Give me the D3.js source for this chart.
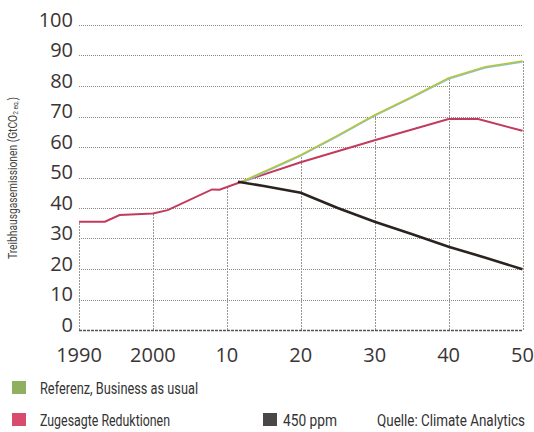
<!DOCTYPE html>
<html>
<head>
<meta charset="utf-8">
<script src="https://cdn.jsdelivr.net/npm/d3@7"></script>
<style>
  body { margin: 0; background: #fff; }
  svg { display: block; }
</style>
</head>
<body>
<svg width="534" height="432"></svg>
<script>
const svg = d3.select("svg");

const width = 534;
const height = 432;

const margin = { top: 25, right: 11, bottom: 102, left: 79 };

// Zugesagte Reduktionen (rot)
const redYears = [1990, 1993.5, 1995.5, 2000, 2002, 2008, 2009, 2012, 2020, 2030, 2040, 2044, 2050];
const redValues = [35.5, 35.5, 37.7, 38.2, 39.3, 46.1, 46, 48.6, 55, 62.2, 69.2, 69.2, 65.3];

// Referenz, Business as usual (grün)
const greenYears = [2012, 2020, 2025, 2030, 2035, 2040, 2045, 2050];
const greenValues = [48.6, 57.4, 63.8, 70.5, 76.4, 82.6, 86.3, 88.2];

// 450 ppm (schwarz)
const blackYears = [2011.5, 2015, 2020, 2025, 2030, 2035, 2040, 2045, 2050];
const blackValues = [48.6, 47.2, 45, 40, 35.5, 31.5, 27.3, 23.7, 19.9];

const yTicks = [0, 10, 20, 30, 40, 50, 60, 70, 80, 90, 100];
const xTicks = [1990, 2000, 2010, 2020, 2030, 2040, 2050];
const xTickLabels = ["1990", "2000", "10", "20", "30", "40", "50"];

const legendItems = ["Referenz, Business as usual", "Zugesagte Reduktionen", "450 ppm"];
const source = "Quelle: Climate Analytics";

const toPoints = (xs, vs) => xs.map((x, i) => ({ year: x, value: vs[i] }));
const red = toPoints(redYears, redValues);
const green = toPoints(greenYears, greenValues);
const black = toPoints(blackYears, blackValues);

const xScale = d3.scaleLinear()
    .domain([1990, 2050])
    .range([margin.left, width - margin.right - 0.5]);

const yScale = d3.scaleLinear()
    .domain([0, 100])
    .range([height - margin.bottom, margin.top]);

// highest line value at a given year (for the vertical grid lines)
function interp(series, year) {
    if (year < series[0].year || year > series[series.length - 1].year) return null;
    for (let i = 1; i < series.length; i++) {
        if (year <= series[i].year) {
            const a = series[i - 1], b = series[i];
            const t = (year - a.year) / (b.year - a.year);
            return a.value + t * (b.value - a.value);
        }
    }
    return series[series.length - 1].value;
}
function topAt(year) {
    return d3.max([red, green, black].map(s => interp(s, year)).filter(v => v !== null));
}

// horizontal grid
svg.append("g")
    .selectAll("line")
    .data(yTicks.filter(d => d > 0))
    .enter()
    .append("line")
    .attr("x1", xScale(1990))
    .attr("x2", xScale(2050))
    .attr("y1", d => Math.round(yScale(d)) + 0.5)
    .attr("y2", d => Math.round(yScale(d)) + 0.5)
    .attr("stroke", "#8a8682")
    .attr("stroke-width", 1)
    .attr("stroke-dasharray", "1,1");

// vertical grid
svg.append("g")
    .selectAll("line")
    .data(xTicks)
    .enter()
    .append("line")
    .attr("x1", d => Math.round(xScale(d)) + 0.5)
    .attr("x2", d => Math.round(xScale(d)) + 0.5)
    .attr("y1", yScale(0))
    .attr("y2", d => yScale(topAt(d)))
    .attr("stroke", "#9a9692")
    .attr("stroke-width", 1)
    .attr("stroke-dasharray", "2,1");

// baseline
svg.append("line")
    .attr("x1", xScale(1990))
    .attr("x2", xScale(2050))
    .attr("y1", Math.round(yScale(0)) + 0.5)
    .attr("y2", Math.round(yScale(0)) + 0.5)
    .attr("stroke", "#5a5250")
    .attr("stroke-width", 1.3)
    .attr("stroke-dasharray", "3,1");

// y tick labels
svg.append("g")
    .selectAll("text")
    .data(yTicks)
    .enter()
    .append("text")
    .attr("x", 73)
    .attr("y", d => yScale(d) + 1.5)
    .attr("text-anchor", "end")
    .style("font-family", "'Open Sans', sans-serif")
    .style("font-size", "20px")
    .attr("fill", "#3a3434")
    .text(d => d);

// x tick labels
svg.append("g")
    .selectAll("text")
    .data(xTicks)
    .enter()
    .append("text")
    .attr("x", d => xScale(d))
    .attr("y", 362)
    .attr("text-anchor", "middle")
    .style("font-family", "'Open Sans', sans-serif")
    .style("font-size", "20px")
    .attr("fill", "#3a3434")
    .text((d, i) => xTickLabels[i]);

const line = d3.line()
    .x(d => xScale(d.year))
    .y(d => yScale(d.value));

// lines
svg.append("path")
    .datum(red)
    .attr("d", line)
    .attr("fill", "none")
    .attr("stroke", "#c23a5c")
    .attr("stroke-width", 2);

svg.append("path")
    .datum(green)
    .attr("d", line)
    .attr("transform", "translate(0,1)")
    .attr("fill", "none")
    .attr("stroke", "#86c4cc")
    .attr("stroke-width", 1.4);

svg.append("path")
    .datum(green)
    .attr("d", line)
    .attr("fill", "none")
    .attr("stroke", "#b8c33c")
    .attr("stroke-width", 1.6);

svg.append("path")
    .datum(black)
    .attr("d", line)
    .attr("fill", "none")
    .attr("stroke", "#2b2320")
    .attr("stroke-width", 2.6);

// y axis title
const yTitle = svg.append("text")
    .attr("transform", "translate(17,178) rotate(-90)")
    .attr("text-anchor", "middle")
    .attr("textLength", 162)
    .attr("lengthAdjust", "spacingAndGlyphs")
    .style("font-family", "Roboto, sans-serif")
    .style("font-size", "12.5px")
    .attr("fill", "#444");
yTitle.append("tspan").text("Treibhausgasemissionen (GtCO");
yTitle.append("tspan").style("font-size", "8px").attr("dy", 1).text("2 eq.");
yTitle.append("tspan").attr("dy", -1).text(")");

// legend
const legendColors = ["#8fb060", "#d84b6c", "#4a4846"];
const legendPos = [{ x: 12, y: 381 }, { x: 12, y: 413 }, { x: 263, y: 413 }];
const legendTextWidth = [158, 130, 54];

const legend = svg.append("g")
    .selectAll("g")
    .data(legendItems)
    .enter()
    .append("g")
    .attr("transform", (d, i) => `translate(${legendPos[i].x},${legendPos[i].y})`);

legend.append("rect")
    .attr("width", 14)
    .attr("height", 13)
    .attr("fill", (d, i) => legendColors[i]);

legend.append("text")
    .attr("x", (d, i) => i === 2 ? 20 : 28)
    .attr("y", 12.5)
    .attr("textLength", (d, i) => legendTextWidth[i])
    .attr("lengthAdjust", "spacingAndGlyphs")
    .style("font-family", "Roboto, sans-serif")
    .style("font-size", "17px")
    .attr("fill", "#333")
    .text(d => d);

// source, squeezed horizontally like the condensed print font
const src = svg.append("text")
    .attr("x", 0)
    .attr("y", 0)
    .style("font-family", "Roboto, sans-serif")
    .style("font-size", "17px")
    .attr("fill", "#333")
    .text(source);
const srcScale = 148 / src.node().getComputedTextLength();
src.attr("transform", `translate(377,425.5) scale(${srcScale},1)`);
</script>
</body>
</html>
